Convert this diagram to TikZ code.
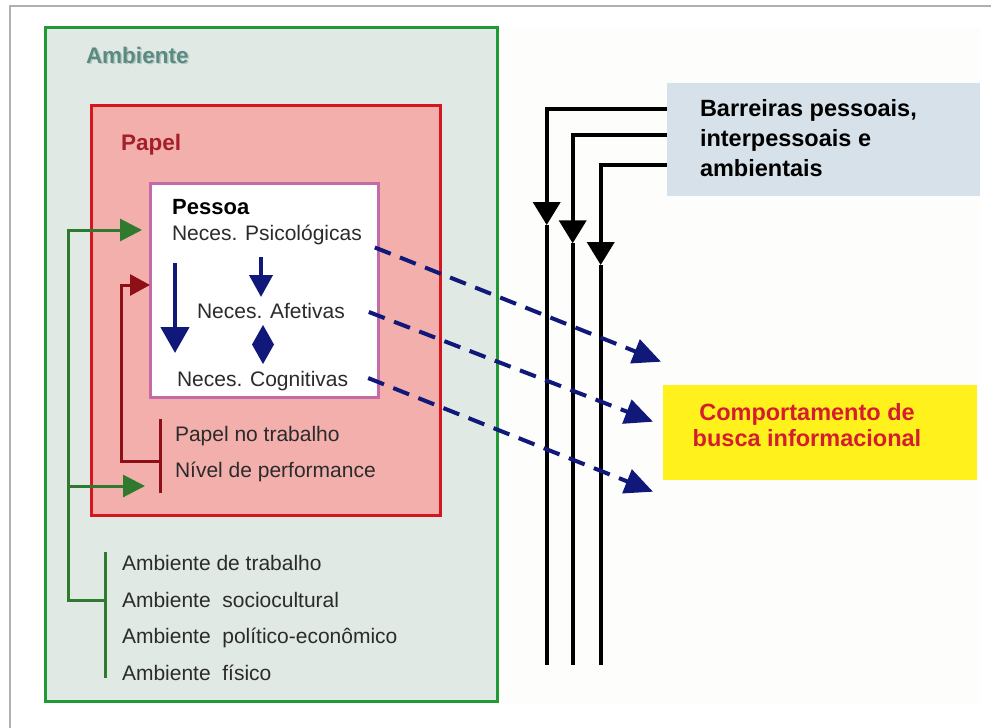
\documentclass[tikz,border=0pt]{standalone}
\usepackage{fontspec}
\setmainfont{Liberation Sans}
\usetikzlibrary{arrows.meta,calc}

\definecolor{framegray}{HTML}{B0B0B0}
\definecolor{backdrop}{HTML}{FDFDFC}
\definecolor{ambgreen}{HTML}{1F9A35}
\definecolor{ambfill}{HTML}{E0E9E4}
\definecolor{ambtitle}{HTML}{5B8A80}
\definecolor{papred}{HTML}{D4171F}
\definecolor{papfill}{HTML}{F2AFAC}
\definecolor{paptitle}{HTML}{A3202A}
\definecolor{pesborder}{HTML}{C46AA6}
\definecolor{navy}{HTML}{10187A}
\definecolor{lnkgreen}{HTML}{2F7A2E}
\definecolor{lnkred}{HTML}{8E1016}
\definecolor{barfill}{HTML}{D6E1E9}
\definecolor{compfill}{HTML}{FFF21C}
\definecolor{comptext}{HTML}{D41E30}
\definecolor{txt}{HTML}{2B2B2B}

\begin{document}
\begin{tikzpicture}[x=1pt,y=-1pt,
  panel/.style={anchor=north west, inner sep=0pt, outer sep=0pt},
  label/.style={anchor=base west, inner sep=0pt, outer sep=0pt, text=txt,
    font=\fontsize{21pt}{25pt}\selectfont},
  heading/.style={anchor=base west, inner sep=0pt, outer sep=0pt,
    font=\fontsize{22.5pt}{27pt}\selectfont\bfseries},
  bartext/.style={anchor=base west, inner sep=0pt, outer sep=0pt, text=black,
    font=\fontsize{23.5pt}{28pt}\selectfont\bfseries},
  comptxt/.style={anchor=base, inner sep=0pt, outer sep=0pt, text=comptext,
    font=\fontsize{23.5pt}{28pt}\selectfont\bfseries},
  greenline/.style={draw=lnkgreen, line width=3pt},
  greenarrow/.style={greenline, -{Triangle[length=22pt,width=22pt]}},
  redline/.style={draw=lnkred, line width=3pt},
  redarrow/.style={redline, -{Triangle[length=20pt,width=21pt]}},
  barline/.style={draw=black, line width=4pt},
  bararrow/.style={barline, -{Triangle[length=23pt,width=27pt]}},
  dasharrow/.style={draw=navy, line width=4pt, dash pattern=on 17pt off 10pt,
    -{Triangle[length=28pt,width=25pt]}},
]
\useasboundingbox (0,0) rectangle (991,728);

% outer frame and light backdrop
\draw[framegray, line width=2pt] (991,6) -- (10,6) -- (10,728);
\fill[backdrop] (45,27) rectangle (980,703);

% nested boxes
\node[panel, draw=ambgreen, fill=ambfill, line width=3pt,
  minimum width=452pt, minimum height=674pt] (amb) at (45,27) {};
\node[panel, draw=papred, fill=papfill, line width=3pt,
  minimum width=349pt, minimum height=410pt] (papel) at (91,105) {};
\node[panel, draw=pesborder, fill=white, line width=3pt,
  minimum width=228pt, minimum height=214pt] (pessoa) at (150,183) {};

% box titles
\node[heading, text=ambtitle!45] (ambsh) at (87.5,64.5) {Ambiente};
\node[heading, text=ambtitle] (ambtitle) at (86,63) {Ambiente};
\node[heading, text=paptitle] (paptitle) at (121,150) {Papel};
\node[anchor=base west, inner sep=0pt, font=\fontsize{22pt}{26pt}\selectfont\bfseries]
  (pestitle) at (172,214) {Pessoa};

% needs of the person
\node[label] (psic) at (172,240) {Neces. Psicológicas};
\node[label] (afet) at (197,318) {Neces. Afetivas};
\node[label] (cogn) at (177,386.5) {Neces. Cognitivas};

% role factors
\node[label] (trab) at (175,441.5) {Papel no trabalho};
\node[label] (perf) at (175,477.5) {Nível de performance};

% environment factors
\node[label] (amb1) at (122,570.5) {Ambiente de trabalho};
\node[label] (amb2) at (122,607.2) {Ambiente\ \ sociocultural};
\node[label] (amb3) at (122,643.9) {Ambiente\ \ político-econômico};
\node[label] (amb4) at (122,680.5) {Ambiente\ \ físico};

% barriers box
\node[panel, fill=barfill, minimum width=313pt, minimum height=113pt] (bar) at (667,83) {};
\node[bartext] (bar1) at (700,116.7) {Barreiras pessoais,};
\node[bartext] (bar2) at (700,146) {interpessoais e};
\node[bartext] (bar3) at (700,176) {ambientais};

% information seeking behaviour box
\node[panel, fill=compfill, minimum width=314pt, minimum height=95pt] (comp) at (663,385) {};
\node[comptxt] (comp1) at (807,420) {Comportamento de};
\node[comptxt] (comp2) at (807,446.7) {busca informacional};

% arrows between the needs
\coordinate (na1) at (175,263);
\coordinate (na2) at (175,353);
\coordinate (nb1) at (261,257);
\coordinate (nb2) at (261,297);
\draw[navy, line width=4.5pt, -{Triangle[length=26pt,width=28pt]}] (na1) -- (na2);
\draw[navy, line width=4pt, -{Triangle[length=22pt,width=23pt]}] (nb1) -- (nb2);
\coordinate (dia) at (263,344.5);
\fill[navy] ($(dia)+(0,-19.5)$) -- ($(dia)+(11,0)$) -- ($(dia)+(0,19.5)$)
  -- ($(dia)+(-11,0)$) -- cycle;

% role bracket feeding the person
\coordinate (rtop) at (160,419);
\coordinate (rbot) at (160,493);
\coordinate (rmid) at (160,461.7);
\coordinate (rup) at (121.7,285);
\draw[redline] (rtop) -- (rbot);
\draw[redarrow] (rmid) -| (rup) -- (pessoa.west |- rup);

% environment bracket feeding the person and the role
\coordinate (gtop) at (105,552);
\coordinate (gbot) at (105,678);
\coordinate (gmid) at (105,600);
\coordinate (gup) at (68,230);
\coordinate (gbr) at (68,486);
\draw[greenline] (gtop) -- (gbot);
\draw[greenarrow] (gmid) -| (gup) -- ([xshift=-8pt]pessoa.west |- gup);
\draw[greenarrow] (gbr) -- ([xshift=-15pt]rmid |- gbr);

% barriers descending
\coordinate (bt1) at (546.7,225);
\coordinate (bt2) at (572.7,243.3);
\coordinate (bt3) at (600.7,265);
\coordinate (bb1) at (546.7,665);
\coordinate (bb2) at (572.7,665);
\coordinate (bb3) at (600.7,665);
\draw[bararrow] ([shift={(0,-30.2)}]bar.west) -| (bt1);
\draw[bararrow] ([shift={(0,-4.5)}]bar.west) -| (bt2);
\draw[bararrow] ([shift={(0,25.5)}]bar.west) -| (bt3);
\draw[barline] (bt1) -- (bb1);
\draw[barline] (bt2) -- (bb2);
\draw[barline] (bt3) -- (bb3);

% needs leading to the behaviour
\draw[dasharrow] ([shift={(13,13)}]psic.east) -- ([shift={(-2,-70.8)}]comp.west);
\draw[dasharrow] ([shift={(24,1.5)}]afet.east) -- ([shift={(-10,-10.8)}]comp.west);
\draw[dasharrow] ([shift={(20,-3)}]cogn.east) -- ([shift={(-10,59.2)}]comp.west);
\end{tikzpicture}
\end{document}
